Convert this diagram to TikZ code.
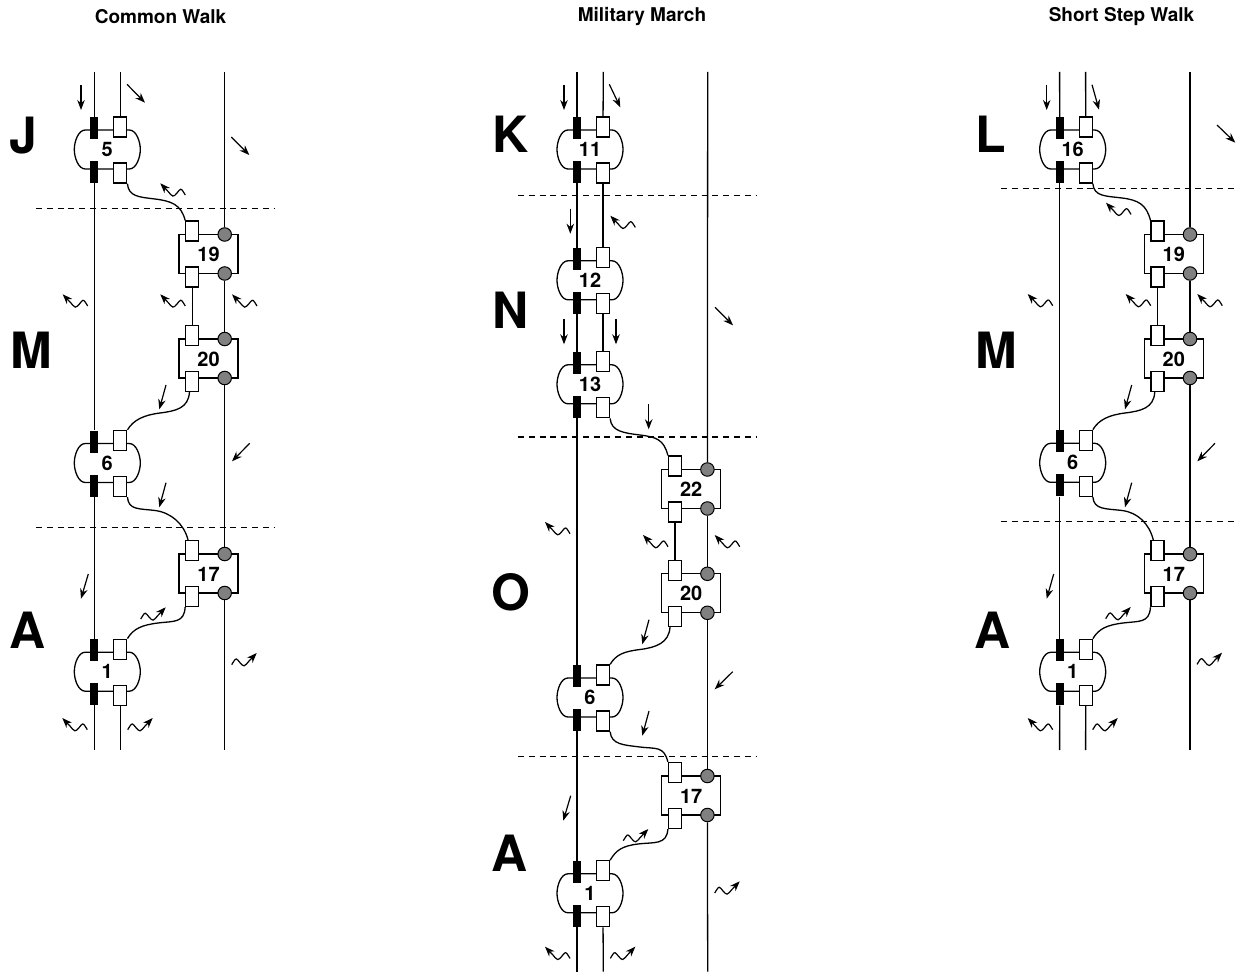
\documentclass[tikz,border=0pt]{standalone}
\usepackage{fontspec}
\setmainfont{TeX Gyre Heros}
\usepackage{tikz}
\usetikzlibrary{arrows.meta, calc}

\tikzset{
    rail/.style={line width=1.3pt},
    route/.style={line width=1.3pt},
    phase/.style={line width=1.2pt, dash pattern=on 6pt off 4.8pt},
    shell/.style={line width=1.3pt},
    lug/.style={draw, line width=1.3pt, fill=white, minimum width=13pt, minimum height=20pt, inner sep=0pt},
    bar/.style={fill=black, minimum width=8pt, minimum height=22pt, inner sep=0pt},
    ball/.style={draw, circle, line width=1pt, fill=black!50, minimum size=13.5pt, inner sep=0pt},
    num/.style={font=\bfseries\fontsize{20}{20}\selectfont, inner sep=0pt},
    gait/.style={font=\bfseries\fontsize{50}{50}\selectfont, inner sep=0pt, anchor=base},
    heading/.style={font=\bfseries\fontsize{19}{19}\selectfont, inner sep=0pt},
    force/.style={line width=1.2pt, -{Stealth[length=10pt,width=7.5pt]}},
    wavy/.pic={
        \draw[line width=1.2pt, -{Stealth[length=10pt,width=7.5pt]}] (25,11.7)
            .. controls (23,8.5) and (21.5,5.5) .. (20.2,6)
            .. controls (18.5,6.5) and (15,13.2) .. (12.6,12.8)
            .. controls (11,12.5) and (9.5,10) .. (8,8.4) -- (0,0);
    }
}

% capsule: two bars on the left, two lugs on the right
\newcommand{\capsule}[4]{
    \draw[shell] (#2-22,#3-19.5) -- (#2+22,#3-19.5)
        .. controls (#2+29,#3-19.5) and (#2+33,#3-8) .. (#2+33,#3)
        .. controls (#2+33,#3+8) and (#2+29,#3+19.5) .. (#2+22,#3+19.5)
        -- (#2-22,#3+19.5)
        .. controls (#2-29,#3+19.5) and (#2-33,#3+8) .. (#2-33,#3)
        .. controls (#2-33,#3-8) and (#2-29,#3-19.5) .. (#2-22,#3-19.5);
    \node[bar] (#1-bt) at (#2-13,#3-21.5) {};
    \node[bar] (#1-bb) at (#2-13,#3+22.5) {};
    \node[lug] (#1-wt) at (#2+13,#3-22.5) {};
    \node[lug] (#1-wb) at (#2+13,#3+23.5) {};
    \node[num] (#1-n) at (#2,#3) {#4};
}
% clamp: square frame, two lugs on the left, two balls on the right
\newcommand{\clamp}[4]{
    \draw[shell] (#2-29.5,#3-19.5) rectangle (#2+29.5,#3+19.5);
    \node[lug] (#1-wt) at (#2-16.2,#3-23) {};
    \node[lug] (#1-wb) at (#2-16.2,#3+23) {};
    \node[ball] (#1-ct) at (#2+16.2,#3-19.5) {};
    \node[ball] (#1-cb) at (#2+16.2,#3+19.5) {};
    \node[num] (#1-n) at (#2,#3+0.5) {#4};
}

\begin{document}
\begin{tikzpicture}[x=1pt, y=-1pt]
    \useasboundingbox (0,0) rectangle (1239,973);
    % headings
    \foreach \n/\x/\t in {hc/160.5/Common Walk, hm/642/Military March, hs/1121.5/Short Step Walk} {
        \node[heading] (\n) at (\x,17) {\t};
    }
    % gait letters
    \foreach \n/\x/\y/\t in {gj/23/154/J, gm/31/368/M, ga/28/648/A, gk/511/153/K, gn/511/329/N, go/511/610/O, gb/510/871/A, gl/991/153/L, gp/996/368/M, gq/993/648/A} {
        \node[gait] (\n) at (\x,\y) {\t};
    }
    % phase lines
    \foreach \i/\xa/\xb/\y in {1/36/274/208.5, 2/36/274/527.5, 3/518/757/195.7, 4/518/757/437, 5/518/757/756.7, 6/1001/1239/188.7, 7/1001/1239/521.7} {
        \coordinate (pa\i) at (\xa,\y);
        \coordinate (pb\i) at (\xb,\y);
        \draw[phase] (pa\i) -- (pb\i);
    }
    % capsules
    \foreach \n/\x/\y/\t in {c5/107.3/149.5/5, c6/107.3/463/6, c1/107.3/671.7/1,
            m11/590/149.5/11, m12/590/280.3/12, m13/590/384.3/13, m6/590/697.5/6, m1/590/893.3/1,
            s16/1072.7/149.5/16, s6/1072.7/462.8/6, s1/1072.7/671.8/1} {
        \capsule{\n}{\x}{\y}{\t}
    }
    % clamps
    \foreach \n/\x/\y/\t in {c19/208.5/254/19, c20/208.5/358.5/20, c17/208.5/573.5/17,
            m22/691.2/489/22, m20/691.2/593.3/20, m17/691.2/795.5/17,
            s19/1173.8/254/19, s20/1173.8/358.5/20, s17/1173.8/573.6/17} {
        \clamp{\n}{\x}{\y}{\t}
    }
    % free rail ends
    \foreach \n/\x/\y in {ca/94.3/72, cb/120.3/72, cc/224.7/72, cd/94.3/750, ce/120.3/750, cf/224.7/750,
            ma/577/72, mb/603.3/72, mc/707.7/72, md/577/971.7, me/603.3/971.7, mf/707.7/971.7,
            sa/1059.6/72, sb/1085.6/72, sc/1190/72, sd/1059.6/750, se/1085.6/750, sf/1190/750} {
        \coordinate (\n) at (\x,\y);
    }
    % rails
    \foreach \a/\b in {ca/c5-bt, c5-bb/c6-bt, c6-bb/c1-bt, c1-bb/cd, cb/c5-wt, c1-wb/ce,
            cc/c19-ct, c19-cb/c20-ct, c20-cb/c17-ct, c17-cb/cf, c19-wb/c20-wt,
            ma/m11-bt, m11-bb/m12-bt, m12-bb/m13-bt, m13-bb/m6-bt, m6-bb/m1-bt, m1-bb/md,
            mb/m11-wt, m11-wb/m12-wt, m12-wb/m13-wt, m1-wb/me,
            mc/m22-ct, m22-cb/m20-ct, m20-cb/m17-ct, m17-cb/mf, m22-wb/m20-wt,
            sa/s16-bt, s16-bb/s6-bt, s6-bb/s1-bt, s1-bb/sd, sb/s16-wt, s1-wb/se,
            sc/s19-ct, s19-cb/s20-ct, s20-cb/s17-ct, s17-cb/sf, s19-wb/s20-wt} {
        \draw[rail] (\a) -- (\b);
    }
    % routes going down to the right
    \foreach \a/\mx/\my/\b in {c5-wb.south east/155/199/c19-wt.north west, c6-wb.south east/155/510.5/c17-wt.112,
            m13-wb.south east/640/435/m22-wt.north west, m6-wb.south east/640/747/m17-wt.north west,
            s16-wb.south east/1122/198/s19-wt.north west, s6-wb.south east/1122/510.5/s17-wt.112} {
        \draw[route] (\a) .. controls +(1,13) and +(-16,-2) .. (\mx,\my)
            .. controls +(16,2) and +(-4,-16) .. (\b);
    }
    % routes going down to the left
    \foreach \a/\mx/\my/\b in {c20-wb.255/160/413/c6-wt.north east, c17-wb.south west/158/623/c1-wt.north east,
            m20-wb.245/640/649.5/m6-wt.north east, m17-wb.south west/638/844/m1-wt.north east,
            s20-wb.255/1125/413/s6-wt.north east, s17-wb.south west/1123/623/s1-wt.north east} {
        \draw[route] (\a) .. controls +(-1,16) and +(16,-2) .. (\mx,\my)
            .. controls +(-16,2) and +(6,-10) .. (\b);
    }
    % straight force arrows
    \foreach \i/\xa/\ya/\xb/\yb in {1/81/85/81/110, 2/127/84.3/145/102.7, 3/231.3/137/249.3/155,
            4/166/385/159.3/409.3, 5/249.7/443.3/232/461.3, 6/166/482.7/159.3/507.3, 7/88.3/574/81/598.7,
            8/564/85/564/110, 9/609.3/84.3/620.3/107.3, 10/570.3/208.7/570.3/233.7,
            11/564/319.3/564/344.3, 12/616/319.3/616/344.3, 13/715/307.3/733/325.3, 14/648.7/404.3/648.7/429.3,
            15/649/619.7/642.3/644.3, 16/732.7/671.7/714.7/689.3, 17/649/711/642.3/735.7, 18/570.7/795.7/563.3/820.7,
            19/1046.7/85/1046.7/110, 20/1092/84.7/1099/109.7, 21/1217/125/1235.3/142.7,
            22/1131.7/385/1125/409.3, 23/1215/443.3/1197.3/461.3, 24/1131.7/482.7/1125/507.3, 25/1053.7/574/1046.7/598.7} {
        \coordinate (fa\i) at (\xa,\ya);
        \coordinate (fb\i) at (\xb,\yb);
        \draw[force] (fa\i) -- (fb\i);
    }
    % wavy arrows pointing up left
    \foreach \x/\y in {160.3/183.3, 62.7/294.3, 160.3/294.3, 232/294.3, 62.3/718,
            610.3/215.7, 545/522, 643/535, 714.7/535, 545/946.7,
            1106/202.7, 1027.7/294, 1125.7/294, 1197.3/294, 1027.7/718} {
        \pic at (\x,\y) {wavy};
    }
    % wavy arrows pointing up right
    \foreach \x/\y in {165.7/607.3, 256.7/653, 152.7/718,
            648.3/829, 739.7/881.3, 635.3/946.7,
            1130.7/607, 1222/652.7, 1117.7/718} {
        \pic[xscale=-1] at (\x,\y) {wavy};
    }
\end{tikzpicture}
\end{document}
